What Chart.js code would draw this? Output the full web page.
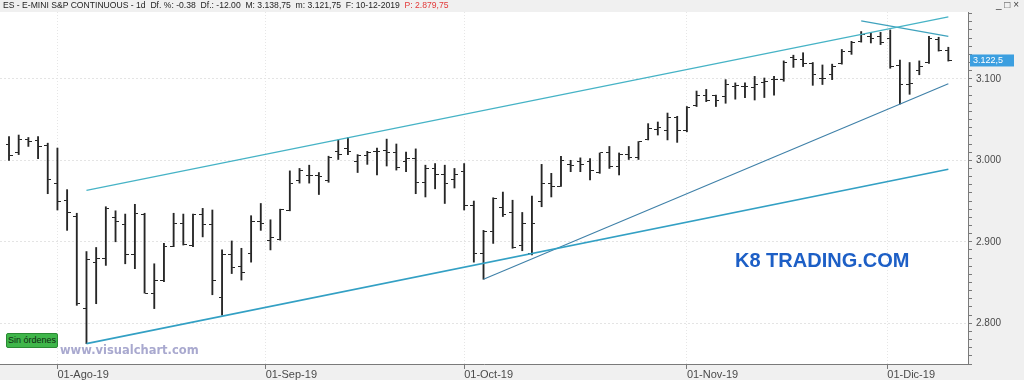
<!DOCTYPE html>
<html>
<head>
<meta charset="utf-8">
<script src="https://cdn.jsdelivr.net/npm/chart.js@4.4.1/dist/chart.umd.min.js"></script>
<style>
    html, body { margin: 0; padding: 0; background: #f0f0f0; }
    #wrap { position: relative; width: 1024px; height: 380px; overflow: hidden; font-family: "Liberation Sans", Arial, sans-serif; }
    #c { position: absolute; left: 0; top: 0; }
    #title { position: absolute; left: 3px; top: 0; line-height: 11px; font-size: 8.6px; color: #1e1e1e; white-space: pre; }
    #title .red { color: #e23a3a; }
    #winbtn { position: absolute; left: 996px; top: -1px; font-size: 10px; color: #404040; white-space: pre; }
    #k8 { position: absolute; left: 735px; top: 249px; font: bold 20px "Liberation Sans", Arial, sans-serif; color: #1d5fc6; }
    #vc { position: absolute; left: 60px; top: 343px; font: bold 11.5px "DejaVu Sans", Verdana, sans-serif; color: #a9a9cf; }
    #sin { position: absolute; left: 6px; top: 333px; width: 50px; height: 13px; background: #3fb64a; border: 1px solid #2a8a33;
           font-size: 9px; line-height: 13px; color: #0f2a12; text-align: center; border-radius: 2px; }
</style>
</head>
<body>
<div id="wrap">
    <canvas id="c" width="1024" height="380"></canvas>
    <div id="title">ES - E-MINI S&amp;P CONTINUOUS - 1d  Df. %: -0.38  Df.: -12.00  M: 3.138,75  m: 3.121,75  F: 10-12-2019  <span class="red">P: 2.879,75</span></div>
    <div id="winbtn">_ □ ×</div>
    <div id="k8">K8 TRADING.COM</div>
    <div id="vc">www.visualchart.com</div>
    <div id="sin">Sin órdenes</div>
</div>
<script>
// daily bars, 25-Jul-19 .. 10-Dic-19
const opens = [3020, 3009, 3025, 3024, 3018, 2972, 2951, 2931, 2818, 2875,
    2880, 2930, 2921, 2884, 2933, 2837, 2852, 2894, 2923, 2895,
    2933, 2921, 2832, 2884, 2870, 2886, 2925, 2902, 2903, 2939,
    2975, 2981, 2981, 2975, 3011, 3015, 2999, 3006, 3011, 3012,
    3009, 2998, 3002, 2973, 2990, 2982, 2977, 2986, 2944, 2886,
    2913, 2942, 2936, 2896, 2886, 2950, 2971, 2968, 2995, 2999,
    2999, 2985, 3009, 2992, 3007, 3004, 3025, 3038, 3037, 3053,
    3036, 3067, 3080, 3079, 3078, 3091, 3090, 3089, 3096, 3099,
    3099, 3126, 3124, 3119, 3101, 3105, 3119, 3134, 3146, 3152,
    3152, 3149, 3116, 3093, 3110, 3120, 3148, 3135];
const highs = [3029, 3031, 3028, 3029, 3021, 3015, 2964, 2935, 2888, 2893,
    2943, 2938, 2934, 2946, 2935, 2873, 2898, 2935, 2934, 2934,
    2941, 2939, 2890, 2901, 2892, 2932, 2947, 2927, 2940, 2987,
    2990, 2994, 2985, 3005, 3025, 3028, 3007, 3011, 3015, 3026,
    3020, 3010, 3014, 2994, 2996, 2994, 2990, 2996, 2950, 2914,
    2954, 2961, 2951, 2936, 2956, 2995, 2984, 3005, 3000, 3003,
    3002, 3009, 3017, 3009, 3017, 3023, 3045, 3047, 3058, 3054,
    3066, 3085, 3087, 3080, 3099, 3095, 3095, 3103, 3101, 3103,
    3122, 3129, 3132, 3120, 3117, 3118, 3136, 3146, 3158, 3157,
    3157, 3160, 3123, 3120, 3122, 3152, 3151, 3138.75];
const lows = [3000, 3007, 3017, 3002, 2959, 2939, 2914, 2822, 2775, 2824,
    2871, 2900, 2873, 2867, 2837, 2818, 2851, 2894, 2896, 2894,
    2906, 2835, 2810, 2861, 2853, 2875, 2914, 2890, 2902, 2938,
    2972, 2972, 2958, 2973, 3001, 3007, 2985, 2995, 2982, 2993,
    2988, 2986, 2959, 2955, 2965, 2947, 2966, 2939, 2875, 2854,
    2898, 2931, 2892, 2889, 2884, 2943, 2955, 2968, 2986, 2986,
    2976, 2984, 2990, 2982, 3001, 3001, 3025, 3031, 3025, 3022,
    3035, 3066, 3072, 3066, 3070, 3075, 3077, 3074, 3077, 3080,
    3097, 3114, 3115, 3092, 3093, 3099, 3118, 3130, 3145, 3144,
    3142, 3113, 3069, 3081, 3105, 3119, 3134, 3121.75];
const closes = [3006, 3025, 3023, 3017, 2976, 2949, 2936, 2824, 2878, 2880,
    2941, 2925, 2884, 2935, 2837, 2853, 2894, 2923, 2897, 2933,
    2921, 2852, 2884, 2868, 2862, 2925, 2922, 2905, 2940, 2972,
    2987, 2981, 2980, 3004, 3007, 3011, 3006, 3009, 3011, 3010,
    2991, 3002, 2973, 2990, 2982, 2971, 2982, 2944, 2886, 2913,
    2953, 2933, 2893, 2922, 2922, 2972, 2968, 3000, 2994, 2995,
    2988, 3009, 2992, 3007, 3004, 3023, 3039, 3040, 3053, 3036,
    3065, 3079, 3073, 3074, 3093, 3092, 3090, 3093, 3097, 3099,
    3120, 3124, 3119, 3105, 3101, 3115, 3133, 3145, 3154, 3150,
    3144, 3115, 3093, 3094, 3115, 3150, 3134.5, 3122.5];

// month ticks (bar index where the date line falls)
const monthTicks = [5, 26.5, 47, 70, 90.7];
const monthLabels = ['01-Ago-19', '01-Sep-19', '01-Oct-19', '01-Nov-19', '01-Dic-19'];

// trendlines: [barIndex, price]
const upperChannel = [[8, 2963], [97, 3176]];
const lowerChannel = [[8, 2775], [97, 2989]];
const octoberSupport = [[49, 2854], [97, 3094]];
const decemberTop = [[88, 3171], [97, 3152]];

const lastPrice = closes[closes.length - 1];

function fmtPrice(v) {
    return String(v).replace('.', ',').replace(/\B(?=(\d{3})+(?!\d))/g, '.');
}

function tickImage(side) {
    const cv = document.createElement('canvas');
    cv.width = 7;
    cv.height = 1;
    const g = cv.getContext('2d');
    g.fillStyle = '#262626';
    g.fillRect(side === 'left' ? 0 : 4, 0, 3, 1);
    return cv;
}

function lineSet(points, color, width) {
    return {
        type: 'line',
        data: points.map(p => ({ x: p[0], y: p[1] })),
        borderColor: color,
        borderWidth: width,
        pointRadius: 0,
        fill: false,
        order: 0
    };
}

const panelBg = {
    id: 'panelBg',
    beforeDraw(chart) {
        const { ctx, chartArea: a } = chart;
        ctx.save();
        ctx.fillStyle = '#f0f0f0';
        ctx.fillRect(0, 0, chart.width, chart.height);
        ctx.fillStyle = '#ffffff';
        ctx.fillRect(a.left, a.top, a.right - a.left, a.bottom - a.top);
        ctx.restore();
    },
    afterDraw(chart) {
        const { ctx, chartArea: a } = chart;
        const y = chart.scales.y.getPixelForValue(lastPrice);
        ctx.save();
        ctx.fillStyle = '#3c9fe0';
        ctx.fillRect(a.right + 2, y - 6, 44, 12);
        ctx.fillStyle = '#ffffff';
        ctx.font = '9px "Liberation Sans", Arial, sans-serif';
        ctx.textBaseline = 'middle';
        ctx.fillText(fmtPrice(lastPrice), a.right + 5, y + 0.5);
        ctx.restore();
    }
};

new Chart(document.getElementById('c'), {
    type: 'bar',
    data: {
        datasets: [
            lineSet(upperChannel, '#46b3c6', 1.2),
            lineSet(lowerChannel, '#33a0c4', 1.6),
            lineSet(octoberSupport, '#3f80a8', 1.1),
            lineSet(decemberTop, '#3fa2bd', 1.2),
            {
                type: 'bar',
                data: lows.map((l, i) => ({ x: i, y: [l, highs[i]] })),
                backgroundColor: '#262626',
                barThickness: 1.2,
                borderWidth: 0,
                order: 1
            },
            {
                type: 'scatter',
                data: opens.map((v, i) => ({ x: i, y: v })),
                pointStyle: tickImage('left'),
                pointRadius: 2,
                order: 1
            },
            {
                type: 'scatter',
                data: closes.map((v, i) => ({ x: i, y: v })),
                pointStyle: tickImage('right'),
                pointRadius: 2,
                order: 1
            }
        ]
    },
    options: {
        responsive: false,
        animation: false,
        events: [],
        layout: { autoPadding: false, padding: { top: 12, left: 0, right: 0, bottom: 0 } },
        plugins: {
            legend: { display: false },
            tooltip: { enabled: false }
        },
        scales: {
            x: {
                type: 'linear',
                min: -0.93,
                max: 99.03,
                offset: false,
                afterFit: function (s) {
                    s.height = 16;
                    s.paddingLeft = 0;
                    s.paddingRight = 0;
                },
                afterBuildTicks: function (s) {
                    s.ticks = monthTicks.map(v => ({ value: v }));
                },
                ticks: {
                    callback: function (v, i) { return monthLabels[i]; },
                    align: 'start',
                    autoSkip: false,
                    maxRotation: 0,
                    padding: -1,
                    color: '#4a4a4a',
                    font: { family: 'Liberation Sans', size: 11 }
                },
                grid: { color: '#e6e6e6', tickLength: 5, tickColor: '#7a7a7a', offset: false },
                border: { color: '#7a7a7a', dash: [1, 2] }
            },
            y: {
                position: 'right',
                min: 2750,
                max: 3182,
                afterFit: function (s) {
                    s.width = 56;
                    s.paddingTop = 0;
                    s.paddingBottom = 0;
                },
                ticks: {
                    stepSize: 10,
                    includeBounds: false,
                    autoSkip: false,
                    padding: 4,
                    color: '#4a4a4a',
                    font: { family: 'Liberation Sans', size: 10 },
                    callback: function (v) { return v % 100 === 0 ? fmtPrice(v) : ''; }
                },
                grid: {
                    color: function (c) { return c.tick && c.tick.value % 100 === 0 ? '#e4e4e4' : 'rgba(0,0,0,0)'; },
                    tickLength: 4,
                    tickColor: '#7a7a7a'
                },
                border: { color: '#7a7a7a', dash: [2, 2] }
            }
        }
    },
    plugins: [panelBg]
});
</script>
</body>
</html>
